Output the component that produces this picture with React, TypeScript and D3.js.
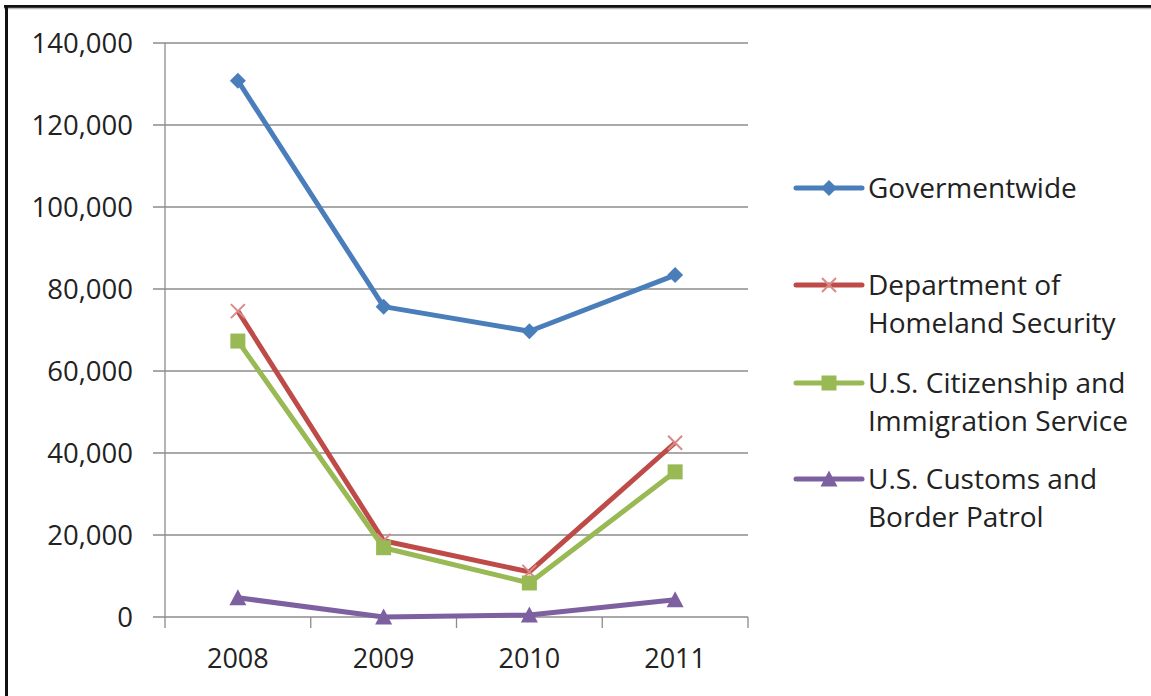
import React from "react";
import * as d3 from "d3";

const years = ["2008", "2009", "2010", "2011"];
const yTicks = [0, 20000, 40000, 60000, 80000, 100000, 120000, 140000];
const governmentwide = [130800, 75700, 69700, 83400];
const dhs = [74600, 18600, 11000, 42500];
const uscis = [67300, 16900, 8300, 35400];
const cbp = [4700, 0, 500, 4200];

const seriesNames = [
  ["Govermentwide"],
  ["Department of", "Homeland Security"],
  ["U.S. Citizenship and", "Immigration Service"],
  ["U.S. Customs and", "Border Patrol"],
];
const seriesColors = ["#4A7EBB", "#BE4B48", "#98B954", "#7D60A0"];
const seriesMarkers = ["diamond", "x", "square", "triangle"];
const seriesData = [governmentwide, dhs, uscis, cbp];

const W = 1151, H = 696;
const left = 165, right = 748, top = 43, bottom = 617;
const FONT = "'Open Sans', 'Noto Sans', sans-serif";

function Marker({ type, x, y, color }: { type: string; x: number; y: number; color: string }) {
  if (type === "diamond") {
    const s = 8;
    return <path d={`M${x},${y - s}L${x + s},${y}L${x},${y + s}L${x - s},${y}Z`} fill={color} />;
  }
  if (type === "square") {
    const s = 7.5;
    return <rect x={x - s} y={y - s} width={2 * s} height={2 * s} fill={color} />;
  }
  if (type === "triangle") {
    const s = 8.5;
    return <path d={`M${x},${y - s}L${x + s},${y + s - 1}L${x - s},${y + s - 1}Z`} fill={color} />;
  }
  const s = 7;
  return (
    <path d={`M${x - s},${y - s}L${x + s},${y + s}M${x - s},${y + s}L${x + s},${y - s}`} stroke="#D98A88" strokeWidth={2} fill="none" />
  );
}

export default function App() {
  const x = d3.scaleBand().domain(years).range([left, right]);
  const y = d3.scaleLinear().domain([0, 140000]).range([bottom, top]);
  const fmt = d3.format(",");
  const line = d3
    .line<number>()
    .x((_, i) => (x(years[i]) as number) + x.bandwidth() / 2)
    .y((d) => y(d));

  const legendY = [188, 285, 383, 479];

  return (
    <svg width={W} height={H} style={{ position: "absolute", left: 0, top: 0, background: "#fff" }}>
      <rect x={0} y={0} width={W} height={H} fill="#fff" />
      {/* border */}
      <line x1={4} y1={6.5} x2={W} y2={6.5} stroke="#111" strokeWidth={3} />
      <line x1={4} y1={8.5} x2={W} y2={8.5} stroke="#bbb" strokeWidth={1.5} />
      <line x1={6.5} y1={5} x2={6.5} y2={H} stroke="#111" strokeWidth={3} />
      {/* gridlines */}
      {yTicks.map((t) => (
        <g key={t}>
          <line x1={153} x2={right} y1={y(t)} y2={y(t)} stroke="#8c8c8c" strokeWidth={1.3} />
          <text x={133} y={y(t)} dy="0.36em" textAnchor="end" fontFamily={FONT} fontSize={27.5} fill="#222">
            {fmt(t)}
          </text>
        </g>
      ))}
      {/* y axis */}
      <line x1={left} x2={left} y1={top} y2={bottom + 11} stroke="#8c8c8c" strokeWidth={1.3} />
      {/* x ticks */}
      {years.map((yr) => (
        <line key={yr} x1={(x(yr) as number) + x.bandwidth()} x2={(x(yr) as number) + x.bandwidth()} y1={bottom} y2={bottom + 11} stroke="#8c8c8c" strokeWidth={1.3} />
      ))}
      {years.map((yr) => (
        <text key={yr} x={(x(yr) as number) + x.bandwidth() / 2} y={668} textAnchor="middle" fontFamily={FONT} fontSize={27} fill="#222">
          {yr}
        </text>
      ))}
      {/* series */}
      {seriesData.map((data, si) => (
        <g key={si}>
          <path d={line(data) || ""} fill="none" stroke={seriesColors[si]} strokeWidth={5} strokeLinejoin="round" />
          {data.map((v, i) => (
            <Marker key={i} type={seriesMarkers[si]} x={(x(years[i]) as number) + x.bandwidth() / 2} y={y(v)} color={seriesColors[si]} />
          ))}
        </g>
      ))}
      {/* legend */}
      {seriesNames.map((name, si) => (
        <g key={si}>
          <line x1={796} x2={862} y1={legendY[si]} y2={legendY[si]} stroke={seriesColors[si]} strokeWidth={5} strokeLinecap="round" />
          <Marker type={seriesMarkers[si]} x={829} y={legendY[si]} color={seriesColors[si]} />
          {name.map((ln, li) => (
            <text key={li} x={868} y={legendY[si] + li * 38} dy="0.36em" fontFamily={FONT} fontSize={28} fill="#222">
              {ln}
            </text>
          ))}
        </g>
      ))}
    </svg>
  );
}
